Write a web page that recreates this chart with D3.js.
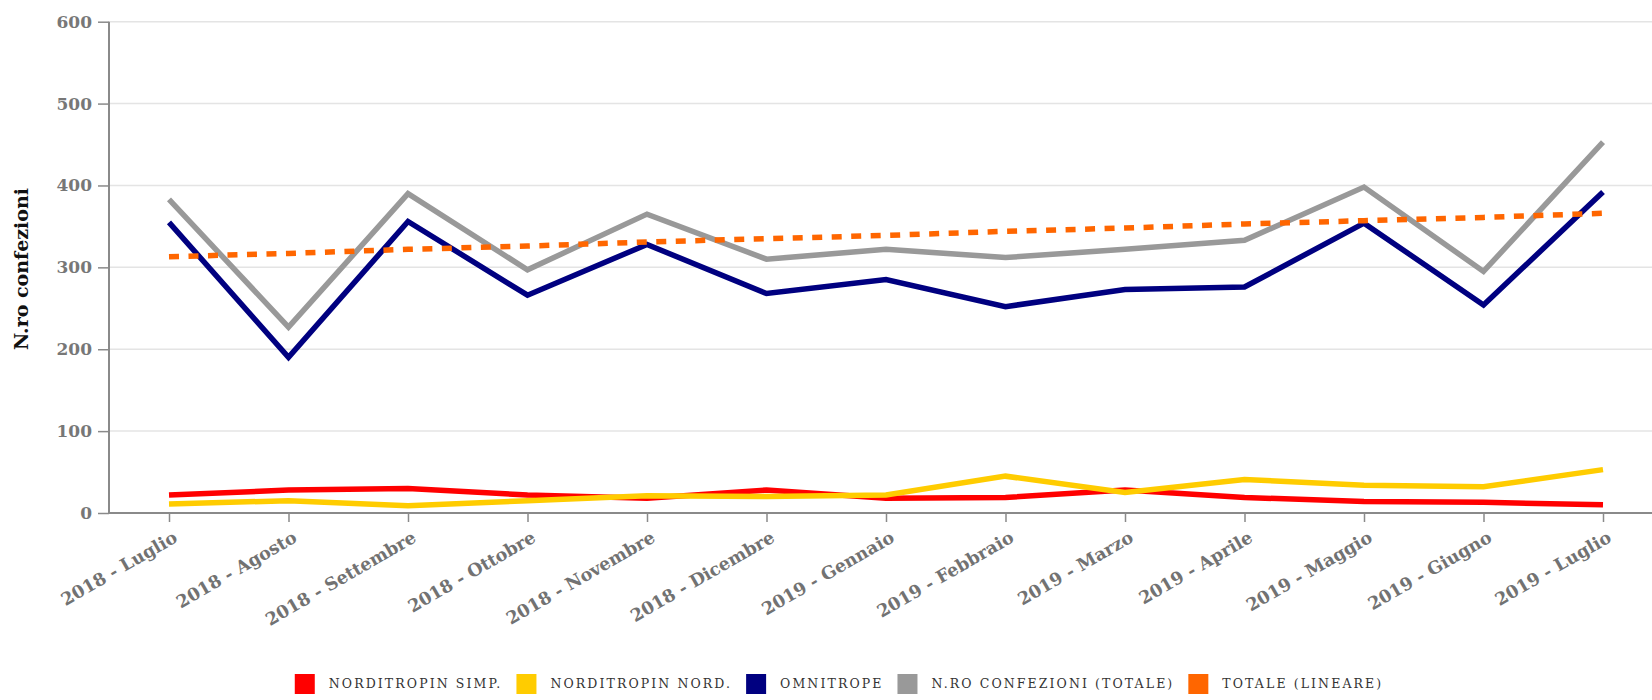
<!DOCTYPE html>
<html lang="it">
<head>
<meta charset="UTF-8">
<title>N.ro confezioni</title>
<script src="https://d3js.org/d3.v7.min.js"></script>
<style>
    body { margin: 0; background: #fff; }
    svg { display: block; background: #fff; }
    .y-tick text { font-family: "DejaVu Serif", serif; font-weight: bold; font-size: 17px; fill: #777; }
    .x-tick text { font-family: "DejaVu Serif", serif; font-weight: bold; font-size: 17.5px; fill: #727272; }
    .axis-title { font-family: "DejaVu Serif", serif; font-weight: bold; font-size: 19px; fill: #111; }
    .legend-label { font-family: "DejaVu Serif", serif; font-size: 12.5px; letter-spacing: 2.1px; fill: #333; }
</style>
</head>
<body>
<script>
    const months = ["2018 - Luglio", "2018 - Agosto", "2018 - Settembre", "2018 - Ottobre",
        "2018 - Novembre", "2018 - Dicembre", "2019 - Gennaio", "2019 - Febbraio", "2019 - Marzo",
        "2019 - Aprile", "2019 - Maggio", "2019 - Giugno", "2019 - Luglio"];
    const yTicks = [0, 100, 200, 300, 400, 500, 600];

    const norditropinSimp = [22, 28, 30, 22, 18, 28, 18, 19, 28, 19, 14, 13, 10];
    const norditropinNord = [11, 15, 9, 15, 21, 20, 22, 45, 25, 41, 34, 32, 53];
    const omnitrope = [355, 190, 356, 266, 328, 268, 285, 252, 273, 276, 354, 254, 392];
    const totale = [383, 227, 390, 297, 365, 310, 322, 312, 322, 333, 398, 295, 453];
    const totaleLineare = [313, 317, 322, 326, 331, 335, 339, 344, 348, 353, 357, 361, 366];

    const series = [
        { name: "NORDITROPIN SIMP.", values: norditropinSimp, color: "#ff0000" },
        { name: "NORDITROPIN NORD.", values: norditropinNord, color: "#ffcc00" },
        { name: "OMNITROPE", values: omnitrope, color: "#000080" },
        { name: "N.RO CONFEZIONI (TOTALE)", values: totale, color: "#999999" },
        { name: "TOTALE (LINEARE)", values: totaleLineare, color: "#ff6600", dashed: true }
    ];

    const width = 1652, height = 700;
    const plotLeft = 109, plotRight = width, plotTop = 21.7, plotBottom = 513;

    const svg = d3.select("body").append("svg")
        .attr("width", width)
        .attr("height", height);

    const x = d3.scalePoint()
        .domain(months)
        .range([169, 1603]);

    const y = d3.scaleLinear()
        .domain([0, 600])
        .range([plotBottom, plotTop]);

    // grid lines
    svg.append("g")
        .selectAll("line")
        .data(yTicks.filter(d => d > 0))
        .join("line")
        .attr("x1", plotLeft).attr("x2", plotRight)
        .attr("y1", d => y(d)).attr("y2", d => y(d))
        .attr("stroke", "#e4e4e4")
        .attr("stroke-width", 1.5);

    // y axis
    const yAxis = svg.append("g")
        .attr("class", "y-tick")
        .attr("transform", `translate(${plotLeft},0)`)
        .call(d3.axisLeft(y).tickValues(yTicks).tickSize(11).tickPadding(6));
    yAxis.select(".domain").attr("stroke", "#8a8a8a").attr("stroke-width", 2)
        .attr("d", `M0,${plotTop}V${plotBottom}`);
    yAxis.selectAll(".tick line").attr("stroke", "#8a8a8a").attr("stroke-width", 1.5);

    // x axis
    const xAxis = svg.append("g")
        .attr("class", "x-tick")
        .attr("transform", `translate(0,${plotBottom})`)
        .call(d3.axisBottom(x).tickSize(9).tickPadding(0));
    xAxis.select(".domain").attr("stroke", "#8a8a8a").attr("stroke-width", 2)
        .attr("d", `M${plotLeft},0H${plotRight}`);
    xAxis.selectAll(".tick line").attr("stroke", "#8a8a8a").attr("stroke-width", 1.5);
    xAxis.selectAll(".tick text")
        .attr("text-anchor", "end")
        .attr("dy", null)
        .attr("y", null)
        .attr("transform", "translate(9,28) rotate(-30)");

    // y axis title
    svg.append("text")
        .attr("class", "axis-title")
        .attr("transform", "translate(28,269) rotate(-90)")
        .attr("text-anchor", "middle")
        .text("N.ro confezioni");

    // lines
    const line = d3.line()
        .x((d, i) => x(months[i]))
        .y(d => y(d));

    svg.append("g")
        .selectAll("path")
        .data(series)
        .join("path")
        .attr("fill", "none")
        .attr("stroke", d => d.color)
        .attr("stroke-width", 5.5)
        .attr("stroke-dasharray", d => d.dashed ? "10,9.5" : null)
        .attr("d", d => line(d.values));

    // legend
    const legend = svg.append("g").attr("transform", "translate(0,684)");
    const items = legend.selectAll("g")
        .data(series)
        .join("g");
    items.append("rect")
        .attr("width", 20).attr("height", 20)
        .attr("y", -10)
        .attr("fill", d => d.color);
    items.append("text")
        .attr("class", "legend-label")
        .attr("x", 34)
        .attr("dy", "0.35em")
        .text(d => d.name);

    let offset = 0;
    const offsets = [];
    items.each(function () {
        offsets.push(offset);
        const w = d3.select(this).select("text").node().getComputedTextLength();
        offset += 34 + w + 14;
    });
    const total = offset - 14;
    const startX = 839 - total / 2;
    items.attr("transform", (d, i) => `translate(${startX + offsets[i]},0)`);
</script>
</body>
</html>
